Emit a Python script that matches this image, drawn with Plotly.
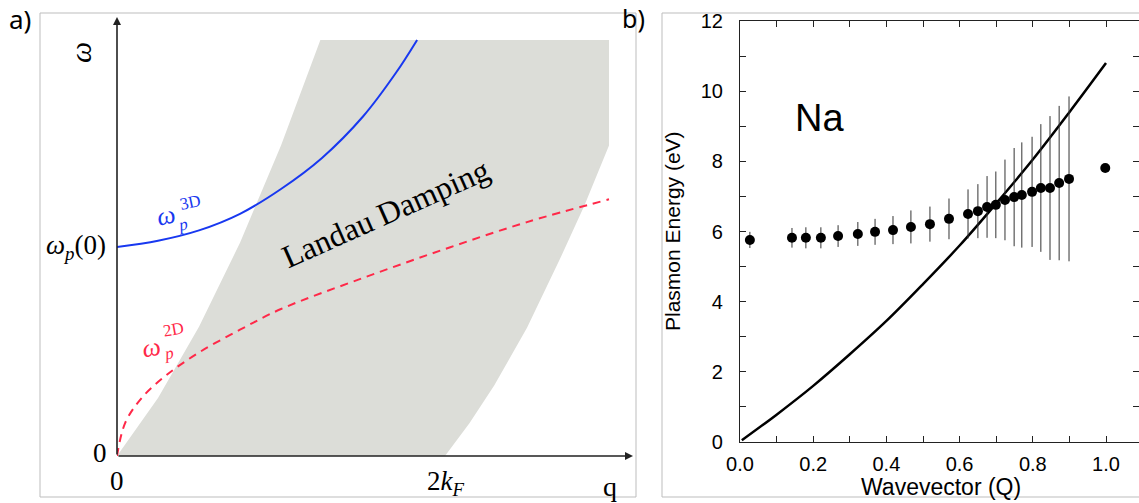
import plotly.graph_objects as go

W, H = 1139, 503

# ---------------- Panel a (schematic) ----------------
cont_q = [0, 0.25, 0.5, 0.75, 1.0, 1.24, 3.0, 3.0, 2.85, 2.7, 2.5, 2.3, 2.15, 2.0]
cont_w = [0, 0.28, 0.625, 1.03, 1.5, 2.01, 2.01, 1.5, 1.21, 0.95, 0.62, 0.34, 0.16, 0]

w3d_q = [0.0, 0.25, 0.5, 0.75, 1.0, 1.25, 1.5, 1.7, 1.83]
w3d_w = [1.01, 1.04, 1.09, 1.17, 1.29, 1.44, 1.64, 1.85, 2.01]

w2d_q = [0.0, 0.05, 0.15, 0.3, 0.5, 0.75, 1.0, 1.5, 2.0, 2.5, 3.0]
w2d_w = [0.0, 0.16, 0.28, 0.39, 0.50, 0.61, 0.71, 0.86, 1.00, 1.13, 1.24]

# ---------------- Panel b (Na data) ----------------
Q_data = [0.027, 0.142, 0.180, 0.221, 0.268, 0.322, 0.369, 0.418, 0.467, 0.519,
          0.571, 0.623, 0.650, 0.675, 0.699, 0.724, 0.749, 0.770, 0.798, 0.822,
          0.847, 0.872, 0.899, 0.998]
E_data = [5.76, 5.82, 5.82, 5.82, 5.87, 5.93, 5.99, 6.04, 6.13, 6.21,
          6.36, 6.50, 6.58, 6.70, 6.76, 6.90, 6.98, 7.04, 7.13, 7.24,
          7.24, 7.38, 7.50, 7.81]
E_err = [0.23, 0.28, 0.30, 0.30, 0.31, 0.34, 0.37, 0.40, 0.47, 0.50,
         0.58, 0.70, 0.77, 0.88, 0.95, 1.15, 1.40, 1.50, 1.57, 1.82,
         2.05, 2.20, 2.35, 0.0]

Q_curve = [0.005, 0.1, 0.2, 0.3, 0.4, 0.5, 0.6, 0.7, 0.8, 0.9, 1.0]
E_curve = [0.05, 0.78, 1.6, 2.5, 3.45, 4.5, 5.6, 6.8, 8.05, 9.4, 10.8]

x_ticks = [0.0, 0.2, 0.4, 0.6, 0.8, 1.0]
y_ticks = [0, 2, 4, 6, 8, 10, 12]


def px(x):
    return x / W


def py(y):
    return 1 - y / H


fig = go.Figure()

# panel a traces
fig.add_trace(go.Scatter(x=cont_q, y=cont_w, fill="toself", fillcolor="#dcddd8",
                         line=dict(width=0), mode="lines", hoverinfo="skip",
                         xaxis="x", yaxis="y"))
fig.add_trace(go.Scatter(x=w3d_q, y=w3d_w, mode="lines",
                         line=dict(color="#1838f0", width=2, shape="spline", smoothing=1),
                         xaxis="x", yaxis="y"))
fig.add_trace(go.Scatter(x=w2d_q, y=w2d_w, mode="lines",
                         line=dict(color="#ff2848", width=2, dash="8px,6px", shape="spline", smoothing=1),
                         xaxis="x", yaxis="y"))

# panel b traces
fig.add_trace(go.Scatter(x=Q_curve, y=E_curve, mode="lines",
                         line=dict(color="black", width=2.5, shape="spline"),
                         xaxis="x2", yaxis="y2"))
fig.add_trace(go.Scatter(x=Q_data, y=E_data, mode="markers",
                         marker=dict(color="black", size=10),
                         error_y=dict(type="data", array=E_err, visible=True, thickness=1,
                                      width=0, color="#333333"),
                         xaxis="x2", yaxis="y2"))

xa_px0, xa_px1 = 117, 633
ya_px0, ya_px1 = 456, 17
q_per_px = 1 / 164.0
w_per_px = 1 / 207.0
xb_px0, xb_px1 = 740, 1139
yb_px0, yb_px1 = 442, 21

tickfont_b = dict(family="Liberation Sans, Arial", size=20, color="black")

fig.update_layout(
    width=W, height=H, margin=dict(l=0, r=0, t=0, b=0, pad=0, autoexpand=False),
    paper_bgcolor="white", plot_bgcolor="rgba(0,0,0,0)", showlegend=False, hovermode=False,
    xaxis=dict(domain=[px(xa_px0), px(xa_px1)], range=[0, (xa_px1 - xa_px0) * q_per_px],
               visible=False, fixedrange=True),
    yaxis=dict(domain=[py(ya_px0), py(ya_px1)], range=[0, (ya_px0 - ya_px1) * w_per_px],
               visible=False, fixedrange=True),
    xaxis2=dict(domain=[px(xb_px0), px(xb_px1)], range=[0, (xb_px1 - xb_px0) / 366.0],
                anchor="y2", tickvals=x_ticks, ticktext=[f"{v:.1f}" for v in x_ticks],
                ticks="inside", ticklen=6, tickwidth=1, tickcolor="#222",
                minor=dict(dtick=0.1, tick0=0, ticks="inside", ticklen=6, tickcolor="#222"),
                showline=True, linecolor="#222", linewidth=1.2, mirror="allticks",
                showgrid=False, zeroline=False, tickfont=tickfont_b, ticklabelstandoff=4),
    yaxis2=dict(domain=[py(yb_px0), py(yb_px1)], range=[0, 12],
                anchor="x2", tickvals=y_ticks,
                ticks="inside", ticklen=6, tickwidth=1, tickcolor="#222",
                minor=dict(dtick=1, tick0=0, ticks="inside", ticklen=6, tickcolor="#222"),
                showline=True, linecolor="#222", linewidth=1.2, mirror="allticks",
                showgrid=False, zeroline=False, tickfont=tickfont_b, ticklabelstandoff=12),
)

# frames of the two images
fig.add_shape(type="rect", xref="paper", yref="paper", x0=px(40), x1=px(636), y0=py(497), y1=py(13),
              line=dict(color="#bdbdbd", width=1))
fig.add_shape(type="rect", xref="paper", yref="paper", x0=px(662), x1=px(1145), y0=py(497), y1=py(13),
              line=dict(color="#bdbdbd", width=1))

# axis arrows panel a
xmax_a = (xa_px1 - xa_px0) * q_per_px
ymax_a = (ya_px0 - ya_px1) * w_per_px
fig.add_annotation(x=xmax_a, y=0, ax=0, ay=0, xref="x", yref="y", axref="x", ayref="y",
                   showarrow=True, arrowhead=2, arrowsize=1, arrowwidth=1.6, arrowcolor="#222", text="")
fig.add_annotation(x=0, y=ymax_a, ax=0, ay=0, xref="x", yref="y", axref="x", ayref="y",
                   showarrow=True, arrowhead=2, arrowsize=1, arrowwidth=1.6, arrowcolor="#222", text="")

serif = "Liberation Serif, Times New Roman, serif"


def lab(x, y, text, size, color="black", family=serif, angle=0, xanchor="center", yanchor="middle"):
    fig.add_annotation(x=px(x), y=py(y), xref="paper", yref="paper", text=text, showarrow=False,
                       font=dict(family=family, size=size, color=color), textangle=angle,
                       xanchor=xanchor, yanchor=yanchor)


lab(80, 53, "<i>ω</i>", 30, angle=-90)
lab(108, 247, "<i>ω</i><sub><i>p</i></sub>(0)", 27, xanchor="right")
lab(100, 453, "0", 27)
lab(117, 481, "0", 27)
lab(445, 483, "2<i>k</i><sub><i>F</i></sub>", 27)
lab(610, 486, "q", 28)
lab(386, 213, "Landau Damping", 32, angle=-24)

# omega_p^3D label
lab(166, 216, "<i>ω</i>", 26, color="#1838f0", angle=-12)
lab(190, 203, "3D", 17, color="#1838f0", angle=-12)
lab(183, 224, "<i>p</i>", 17, color="#1838f0", angle=-12)
# omega_p^2D label
lab(151, 347, "<i>ω</i>", 26, color="#ff2848", angle=-10)
lab(173, 329, "2D", 17, color="#ff2848", angle=-10)
lab(169, 353, "<i>p</i>", 17, color="#ff2848", angle=-10)

# panel b labels
sans = "Liberation Sans, Arial, sans-serif"
lab(819, 118, "Na", 38, family=sans)
lab(672, 231, "Plasmon Energy (eV)", 21, family=sans, angle=-90)
lab(941, 487, "Wavevector (Q)", 23, family=sans)

# panel tags
lab(20, 19, "a)", 26, family="Noto Sans, sans-serif")
lab(633, 18, "b)", 25, family="Noto Sans, sans-serif")

fig.write_html("out.html", config={"displayModeBar": False},
               post_script="document.body.style.margin='0';document.body.style.overflow='hidden';")
